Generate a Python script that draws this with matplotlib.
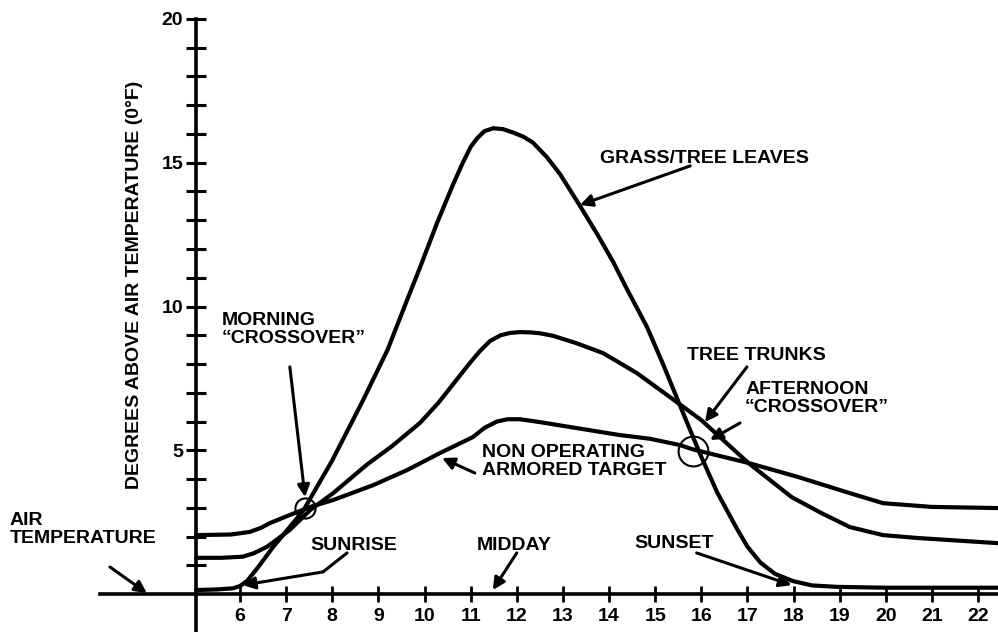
import matplotlib
matplotlib.use("Agg")
import matplotlib.pyplot as plt

# hours of the day (x) and degrees above air temperature (y)
grass_hours = [5.05, 5.5, 5.85, 6.0, 6.15, 6.4, 6.7, 7.37, 8.0, 8.67, 9.2, 9.64, 9.9,
               10.27, 10.62, 10.83, 11.0, 11.14, 11.3, 11.49, 11.7, 11.92, 12.15,
               12.35, 12.65, 12.94, 13.37, 13.75, 14.09, 14.39, 14.82, 15.17, 15.54,
               15.98, 16.34, 16.78, 17.0, 17.28, 17.6, 17.99, 18.4, 18.94, 20.0, 22.43]
grass_temp = [0.14, 0.16, 0.2, 0.28, 0.45, 0.95, 1.6, 2.9, 4.65, 6.75, 8.5, 10.3, 11.35,
              12.9, 14.25, 15.0, 15.55, 15.85, 16.1, 16.2, 16.17, 16.05, 15.9,
              15.7, 15.2, 14.6, 13.5, 12.5, 11.55, 10.6, 9.3, 8.0, 6.55,
              4.85, 3.55, 2.25, 1.65, 1.1, 0.7, 0.45, 0.3, 0.25, 0.22, 0.22]

trunk_hours = [5.05, 5.6, 6.06, 6.3, 6.58, 7.08, 7.52, 8.02, 8.75, 9.3, 9.9, 10.3,
               10.62, 10.99, 11.2, 11.42, 11.65, 11.85, 12.07, 12.3, 12.5, 12.79,
               13.3, 13.87, 14.6, 15.32, 16.0, 17.02, 17.96, 18.6, 19.22, 19.94,
               20.68, 22.43]
trunk_temp = [1.26, 1.26, 1.3, 1.42, 1.64, 2.23, 2.92, 3.51, 4.5, 5.15, 5.95, 6.65,
              7.3, 8.05, 8.45, 8.8, 9.0, 9.08, 9.11, 9.1, 9.07, 8.98,
              8.72, 8.38, 7.69, 6.85, 6.05, 4.56, 3.37, 2.82, 2.33, 2.05,
              1.95, 1.77]

target_hours = [5.05, 5.8, 6.21, 6.45, 6.65, 7.08, 7.52, 8.02, 8.89, 9.62, 10.33,
                11.05, 11.3, 11.57, 11.8, 12.07, 12.5, 13.15, 14.23, 14.89, 15.54,
                15.82, 17.02, 18.1, 19.22, 19.94, 21.0, 22.43]
target_temp = [2.05, 2.07, 2.16, 2.3, 2.47, 2.75, 3.03, 3.27, 3.79, 4.31, 4.9,
               5.46, 5.78, 6.0, 6.08, 6.08, 5.98, 5.81, 5.53, 5.4, 5.18,
               5.03, 4.56, 4.07, 3.51, 3.16, 3.03, 2.99]

# crossover circles: (hour, degrees, diameter in points)
crossovers = [(7.41, 3.0, 14.5), (15.82, 4.96, 21.5)]

x_ticks = list(range(6, 23))
y_ticks = list(range(1, 21))
y_tick_labels = [str(v) if v % 5 == 0 else "" for v in y_ticks]

# callouts: text, text position, arrow path (last point is the arrow tip)
callouts = [
    ("MORNING\n\u201cCROSSOVER\u201d", (5.61, 8.73), [(7.08, 7.90), (7.41, 3.37)]),
    ("GRASS/TREE LEAVES", (13.81, 14.99), [(15.76, 14.89), (13.37, 13.53)]),
    ("TREE TRUNKS", (15.69, 8.14), [(16.99, 7.90), (16.08, 5.98)]),
    ("AFTERNOON\n\u201cCROSSOVER\u201d", (16.95, 6.33), [(16.84, 5.95), (16.19, 5.36)]),
    ("NON OPERATING\nARMORED TARGET", (11.25, 4.14), [(11.09, 4.21), (10.38, 4.73)]),
    ("SUNRISE", (7.52, 1.53), [(8.32, 1.43), (7.80, 0.77), (6.06, 0.31)]),
    ("MIDDAY", (11.14, 1.53), [(12.0, 1.43), (11.48, 0.14)]),
    ("SUNSET", (14.56, 1.60), [(15.90, 1.43), (17.96, 0.31)]),
    ("AIR\nTEMPERATURE", (1.01, 1.77), [(3.18, 0.94), (3.98, 0.03)]),
]

plt.rcParams["font.family"] = ["Liberation Sans", "DejaVu Sans"]
plt.rcParams["font.weight"] = "bold"

fig = plt.figure(figsize=(9.98, 6.32), dpi=100)
ax = fig.add_axes([0, 0, 1, 1])
ax.set_xlim(0.796, 22.433)
ax.set_ylim(-1.32, 20.66)
ax.patch.set_visible(False)

for side in ["top", "right"]:
    ax.spines[side].set_visible(False)
ax.spines["left"].set_position(("data", 5.05))
ax.spines["bottom"].set_position(("data", 0))
ax.spines["left"].set_bounds(-1.32, 20)
ax.spines["bottom"].set_bounds(2.97, 22.433)
ax.spines["left"].set_linewidth(2.6)
ax.spines["bottom"].set_linewidth(2.6)

ax.set_xticks(x_ticks)
ax.set_yticks(y_ticks)
ax.set_yticklabels(y_tick_labels)
ax.tick_params(axis="x", direction="inout", length=12, width=2, pad=4, labelsize=14)
ax.tick_params(axis="y", direction="inout", length=15, width=2.2, pad=2, labelsize=14)

line_kw = dict(color="black", lw=3.0, solid_capstyle="round", solid_joinstyle="round")
ax.plot(grass_hours, grass_temp, **line_kw)
ax.plot(trunk_hours, trunk_temp, **line_kw)
ax.plot(target_hours, target_temp, **line_kw)

for hx, hy, size in crossovers:
    ax.plot(hx, hy, marker="o", ms=size, mfc="none", mec="black", mew=1.5)

for text, pos, path in callouts:
    ax.text(pos[0], pos[1], text, fontsize=14, fontweight="bold",
            ha="left", va="baseline", linespacing=1.1)
    if len(path) > 2:
        ax.plot([p[0] for p in path[:-1]], [p[1] for p in path[:-1]],
                color="black", lw=2.2, solid_capstyle="round")
    ax.annotate("", xy=path[-1], xytext=path[-2],
                arrowprops=dict(arrowstyle="-|>", color="black", lw=2.2,
                                mutation_scale=18, shrinkA=0, shrinkB=0))

ax.text(3.72, 10.75, "DEGREES ABOVE AIR TEMPERATURE (0°F)", rotation=90,
        ha="center", va="center", fontsize=14, fontweight="bold")

fig.savefig("out.png", dpi=100)
